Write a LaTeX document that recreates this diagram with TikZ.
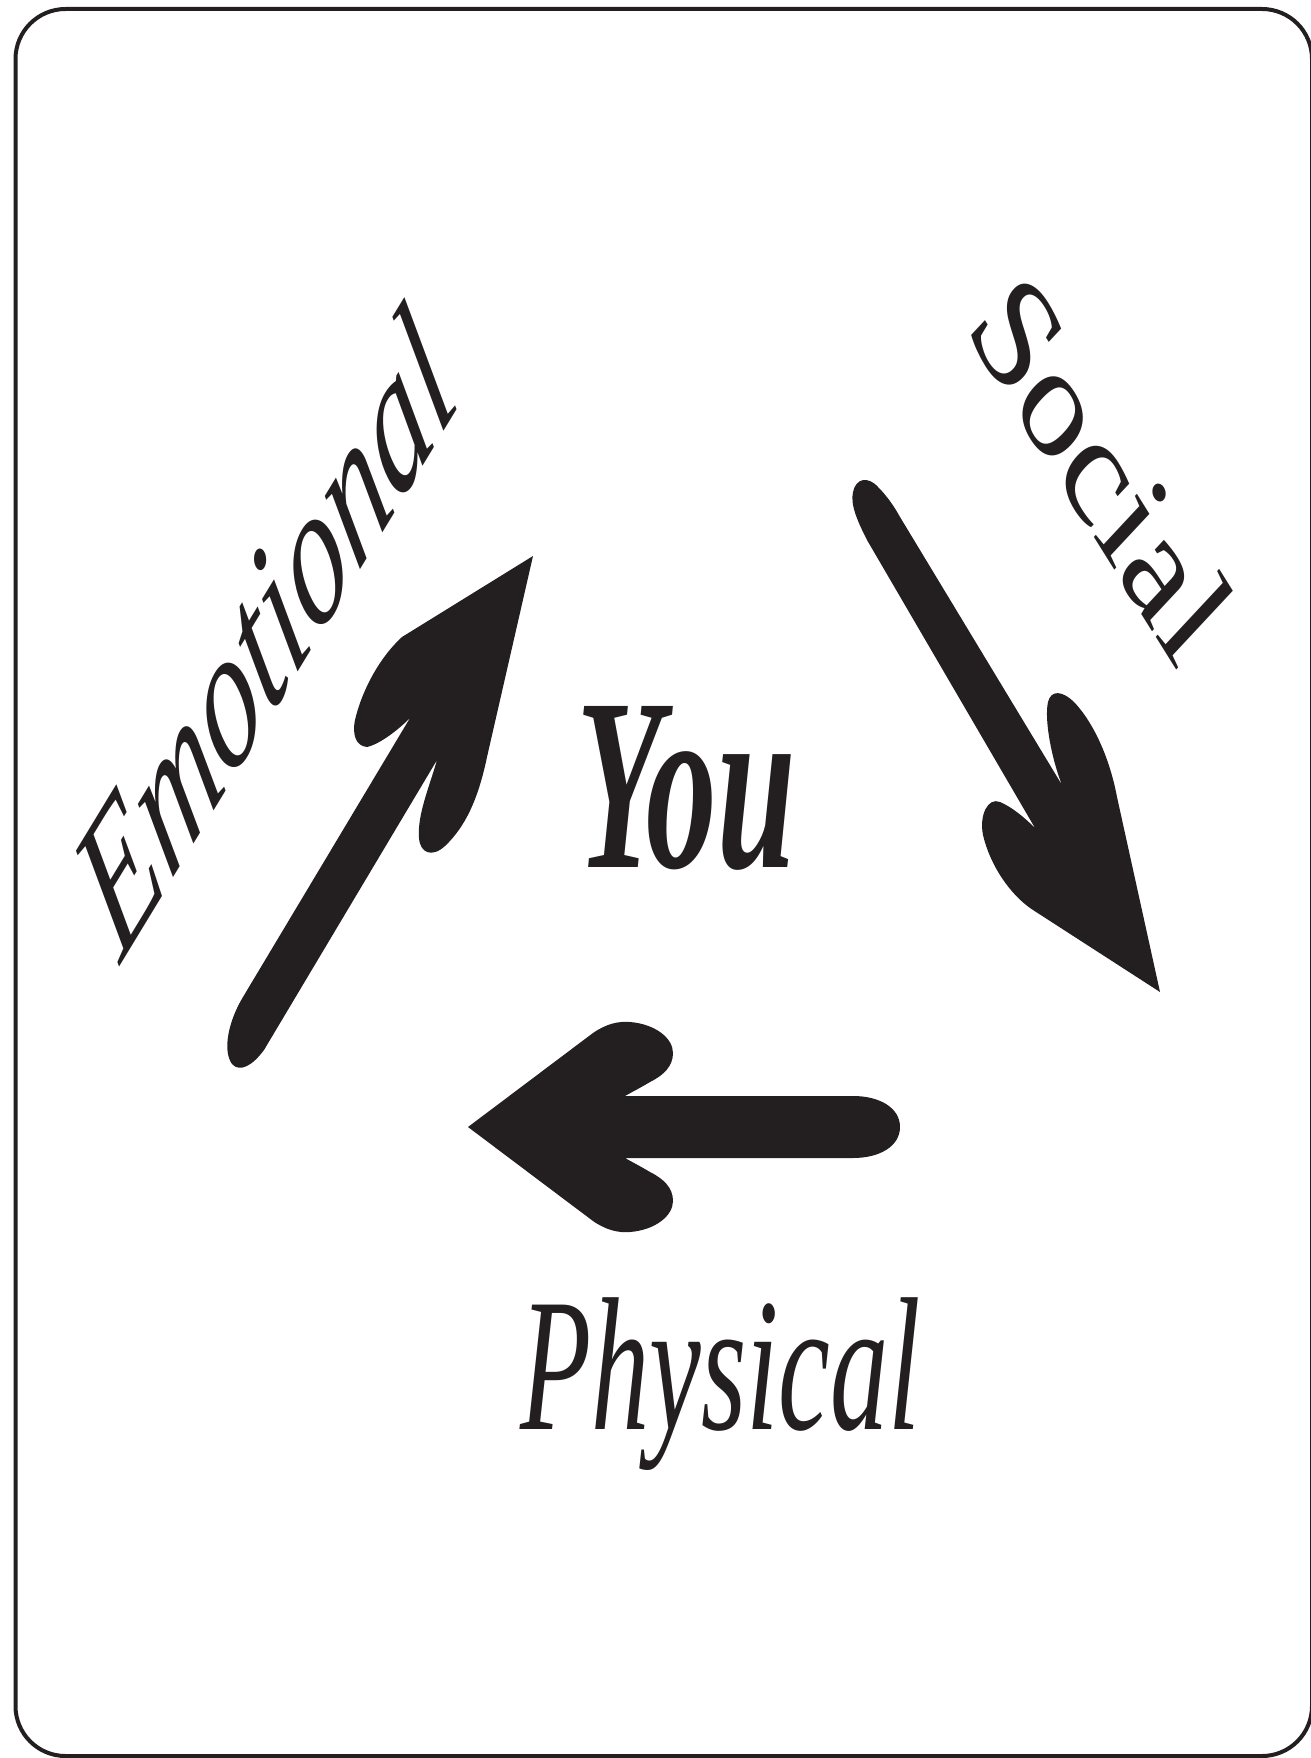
\documentclass[tikz,border=0pt]{standalone}
\usepackage{fontspec}
\setmainfont{Liberation Serif}
\definecolor{inkblack}{RGB}{35,31,32}

\begin{document}
\begin{tikzpicture}[x=1pt, y=1pt]
  \tikzset{
    frame/.style={draw=inkblack, line width=4pt, rounded corners=50pt},
    bigarrow/.style={fill=inkblack, draw=none},
    word/.style={inner sep=0pt, outer sep=0pt, text=inkblack, anchor=base west}
  }
  \useasboundingbox (0,0) rectangle (1310,-1758);

  % Border
  \draw[frame] (15.5,-9) rectangle (1312,-1756);

  % Centre word
  \node[word, xscale=0.573, font=\fontsize{246}{246}\selectfont\bfseries\itshape] (you) at (576,-867) {You};

  % Emotional arrow (up right)
  \fill[bigarrow] (533,-556) -- (402,-637)
    .. controls (380,-657) and (362,-690) .. (355,-720)
    .. controls (352,-735) and (356,-746) .. (367,-747)
    .. controls (380,-744) and (398,-730) .. (410,-718)
    -- (243,-997)
    .. controls (229,-1020) and (222,-1050) .. (232,-1064)
    .. controls (240,-1073) and (253,-1065) .. (264,-1050)
    -- (437,-760)
    .. controls (430,-785) and (417,-815) .. (419,-838)
    .. controls (420,-853) and (432,-858) .. (445,-846)
    .. controls (465,-827) and (478,-800) .. (487,-757)
    -- cycle;

  % Social arrow (down right)
  \fill[bigarrow] (900,-517) -- (1062,-785)
    .. controls (1052,-760) and (1044,-720) .. (1048,-702)
    .. controls (1051,-690) and (1062,-690) .. (1075,-703)
    .. controls (1095,-725) and (1110,-760) .. (1117,-797)
    -- (1160,-992) -- (1033,-910)
    .. controls (1010,-895) and (990,-865) .. (983,-835)
    .. controls (979,-815) and (988,-797) .. (1000,-802)
    .. controls (1012,-807) and (1025,-818) .. (1035,-828)
    -- (867,-540)
    .. controls (858,-522) and (850,-505) .. (853,-492)
    .. controls (856,-478) and (868,-476) .. (878,-487)
    .. controls (888,-497) and (895,-508) .. cycle;

  % Physical arrow (left)
  \fill[bigarrow] (468,-1127) -- (593,-1033)
    .. controls (606,-1024) and (618,-1021) .. (630,-1022)
    .. controls (655,-1024) and (673,-1038) .. (673,-1053)
    .. controls (673,-1066) and (664,-1075) .. (650,-1082)
    .. controls (640,-1088) and (632,-1092) .. (625,-1096)
    -- (853,-1096)
    .. controls (880,-1096) and (900,-1108) .. (900,-1127)
    .. controls (900,-1146) and (880,-1158) .. (853,-1158)
    -- (625,-1158)
    .. controls (632,-1162) and (640,-1166) .. (650,-1172)
    .. controls (664,-1179) and (673,-1188) .. (673,-1201)
    .. controls (673,-1216) and (655,-1230) .. (630,-1232)
    .. controls (618,-1233) and (606,-1230) .. (593,-1221)
    -- cycle;

  % Labels round the arrows
  \node[word, cm={0.475,0.782,-0.464,0.886,(0,0)}, font=\fontsize{173}{173}\selectfont\itshape] (emotional) at (120,-965) {Emotional};
  \node[word, cm={0.642,-1.028,0.682,0.731,(0,0)}, font=\fontsize{134}{134}\selectfont] (social) at (963,-328) {Social};
  \node[word, xscale=0.613, font=\fontsize{190}{190}\selectfont\itshape] (physical) at (520,-1429) {Physical};
\end{tikzpicture}
\end{document}
